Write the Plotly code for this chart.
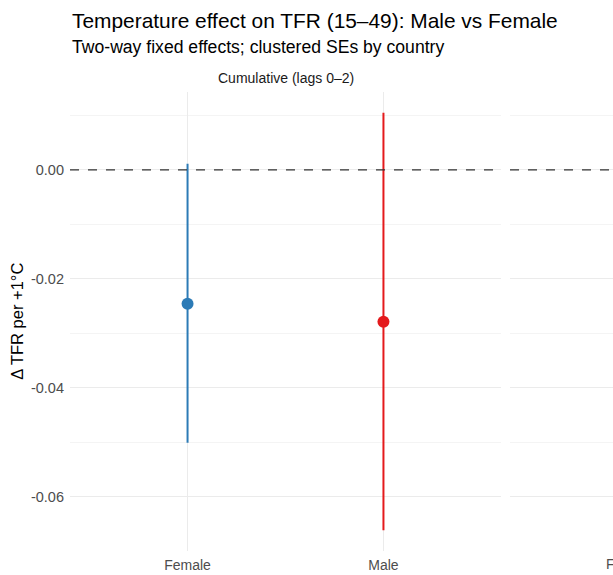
import plotly.graph_objects as go

# Data
sexes = ["Female", "Male"]
estimates = [-0.0246, -0.0279]
ci_low = [-0.0501, -0.0662]
ci_high = [0.0011, 0.0105]
colors = ["#2C7BB6", "#E41A1C"]
facet_titles = ["Cumulative (lags 0–2)"]
y_ticks = [0.0, -0.02, -0.04, -0.06]
y_tick_labels = ["0.00", "-0.02", "-0.04", "-0.06"]
y_minor = [0.01, -0.01, -0.03, -0.05]

# the body margin is removed by a post script, so page pixels == figure pixels
W, H = 613, 575
ML, MR, MT = 70, 0, 92
PB = 551.5          # plot bottom
MB = H - PB
pw = W - ML - MR
ph = H - MT - MB


def py(page_y):
    """paper y coordinate of a page pixel row"""
    return (H - MB - page_y) / ph


def px(page_x):
    return (page_x - ML) / pw


fig = go.Figure()
pos = [1, 2]
for i, s in enumerate(sexes):
    fig.add_trace(go.Scatter(
        x=[pos[i], pos[i]], y=[ci_low[i], ci_high[i]], mode="lines",
        line=dict(color=colors[i], width=2), showlegend=False, hoverinfo="skip",
        xaxis="x", yaxis="y"))
    fig.add_trace(go.Scatter(
        x=[pos[i]], y=[estimates[i]], mode="markers",
        marker=dict(color=colors[i], size=12), showlegend=False, name=s,
        xaxis="x", yaxis="y"))
fig.add_trace(go.Scatter(x=[None], y=[None], xaxis="x2", yaxis="y2", showlegend=False))

unit_px = (501 - 70) / 2.2
x2_span_units = (613 - 510) / unit_px

yr = [-0.0700, 0.0143]
grid = "#EBEBEB"
minor_grid = "#F4F4F4"
fig.update_layout(
    width=W, height=H, margin=dict(l=ML, r=MR, t=MT, b=MB),
    paper_bgcolor="white", plot_bgcolor="white",
    font=dict(family="Liberation Sans, Arial, sans-serif", color="#4D4D4D"),
    xaxis=dict(domain=[0, px(501)], range=[0.4, 2.6],
               tickvals=pos, ticktext=sexes, showgrid=True, gridcolor=grid,
               gridwidth=1.2, zeroline=False, showline=False, ticks="",
               ticklabelstandoff=4,
               tickfont=dict(size=14, color="#4D4D4D")),
    xaxis2=dict(domain=[px(510), 1], range=[0.4, 0.4 + x2_span_units],
                showgrid=False, zeroline=False, showticklabels=False, anchor="y2"),
    yaxis=dict(domain=[0, 1], range=yr, tickvals=y_ticks, ticktext=y_tick_labels,
               showgrid=True, gridcolor=grid, gridwidth=1.2, zeroline=False,
               ticks="", ticklabelstandoff=5,
               tickfont=dict(size=14.5, color="#4D4D4D"),
               minor=dict(tickvals=y_minor, showgrid=True,
                          gridcolor=minor_grid, gridwidth=0.8)),
    yaxis2=dict(domain=[0, 1], range=yr, anchor="x2", showticklabels=False,
                tickvals=y_ticks, showgrid=True, gridcolor=grid, gridwidth=1.2,
                zeroline=False, ticks="",
                minor=dict(tickvals=y_minor, showgrid=True,
                           gridcolor=minor_grid, gridwidth=0.8)),
)

# zero reference line in both panels
for xr, yref in [("x domain", "y"), ("x2 domain", "y2")]:
    fig.add_shape(type="line", xref=xr, yref=yref, x0=0, x1=1, y0=0, y1=0,
                  line=dict(color="#333333", width=1.2, dash="dash"), layer="above")

# y axis title
fig.add_annotation(text="Δ TFR per +1°C", xref="paper", yref="paper",
                   x=px(17), y=py(322), textangle=-90, xanchor="center",
                   yanchor="middle", showarrow=False,
                   font=dict(size=16.5, color="black"))
# title and subtitle
fig.add_annotation(text="Temperature effect on TFR (15–49): Male vs Female",
                   xref="paper", yref="paper", x=px(70), y=py(20),
                   xanchor="left", yanchor="middle", showarrow=False,
                   font=dict(size=20.9, color="black"))
fig.add_annotation(text="Two-way fixed effects; clustered SEs by country",
                   xref="paper", yref="paper", x=px(70), y=py(47),
                   xanchor="left", yanchor="middle", showarrow=False,
                   font=dict(size=17.6, color="black"))
# facet strip
fig.add_annotation(text=facet_titles[0], xref="x domain", yref="paper", x=0.5,
                   y=py(78), xanchor="center", yanchor="middle",
                   showarrow=False, font=dict(size=14, color="#1A1A1A"))
# second panel tick label, partially cut by the page edge
fig.add_annotation(text=sexes[0], xref="paper", yref="paper",
                   x=px(604), y=py(565),
                   xanchor="left", yanchor="middle", showarrow=False,
                   font=dict(size=14, color="#4D4D4D"))

fig.write_html(
    "out.html",
    config={"displayModeBar": False},
    post_script="document.body.style.margin='0';document.body.style.overflow='hidden';",
)
